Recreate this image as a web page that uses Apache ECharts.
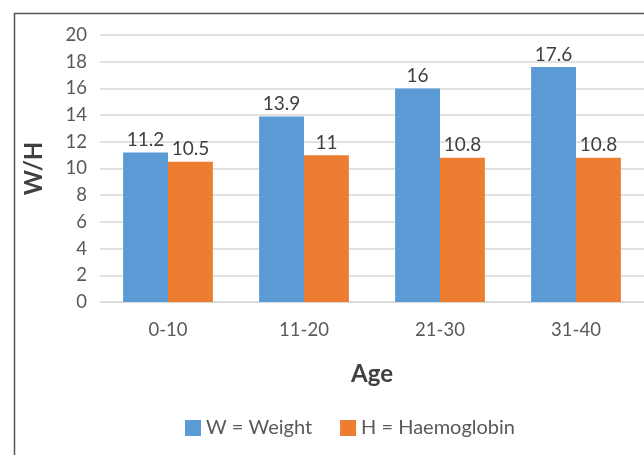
<!DOCTYPE html>
<html><head><meta charset="utf-8">
<script src="https://cdn.jsdelivr.net/npm/echarts@6/dist/echarts.min.js"></script>
<style>html,body{margin:0;padding:0;background:#fff}#c{width:644px;height:455px}</style>
</head><body><div id="c"></div>
<script>
const categories = ['0-10','11-20','21-30','31-40'];
const weight = [11.2, 13.9, 16, 17.6];
const haemoglobin = [10.5, 11, 10.8, 10.8];
const seriesNames = ['W = Weight','H = Haemoglobin'];
const F = 'Lato, "Open Sans", sans-serif';
const chart = echarts.init(document.getElementById('c'));
const lbl = {show:true, position:'top', distance:3, color:'#404040', fontFamily:F, fontSize:19};
chart.setOption({
  animation:false,
  textStyle:{fontFamily:F},
  graphic:[{type:'rect', shape:{x:14.5,y:13.5,width:700,height:500}, style:{fill:null, stroke:'#555', lineWidth:1.5}, silent:true}],
  grid:{left:100, top:35, width:548, height:267, containLabel:false},
  legend:{bottom:12, left:180, itemWidth:16, itemHeight:16, itemGap:28, icon:'rect',
    textStyle:{fontFamily:F, fontSize:20, color:'#595959'}},
  xAxis:{type:'category', data:categories, name:'Age', nameLocation:'middle', nameGap:60,
    nameTextStyle:{fontFamily:F, fontSize:24, fontWeight:'bold', color:'#404040'},
    axisLine:{lineStyle:{color:'#d9d9d9'}}, axisTick:{show:false},
    axisLabel:{fontFamily:F, fontSize:18.5, color:'#595959', margin:19}},
  yAxis:{type:'value', min:0, max:20, interval:2, name:'W/H', nameLocation:'middle', nameGap:54,
    nameTextStyle:{fontFamily:F, fontSize:24, fontWeight:'bold', color:'#404040'},
    axisLine:{show:false}, axisTick:{show:false},
    splitLine:{lineStyle:{color:'#d9d9d9', width:1.5}},
    axisLabel:{fontFamily:F, fontSize:18.5, color:'#595959', margin:13}},
  series:[
    {name:seriesNames[0], type:'bar', data:weight, barGap:'0%', barCategoryGap:'34%',
     itemStyle:{color:'#5b9bd5'}, label:lbl},
    {name:seriesNames[1], type:'bar', data:haemoglobin,
     itemStyle:{color:'#ed7d31'}, label:lbl}
  ]
});
</script></body></html>
